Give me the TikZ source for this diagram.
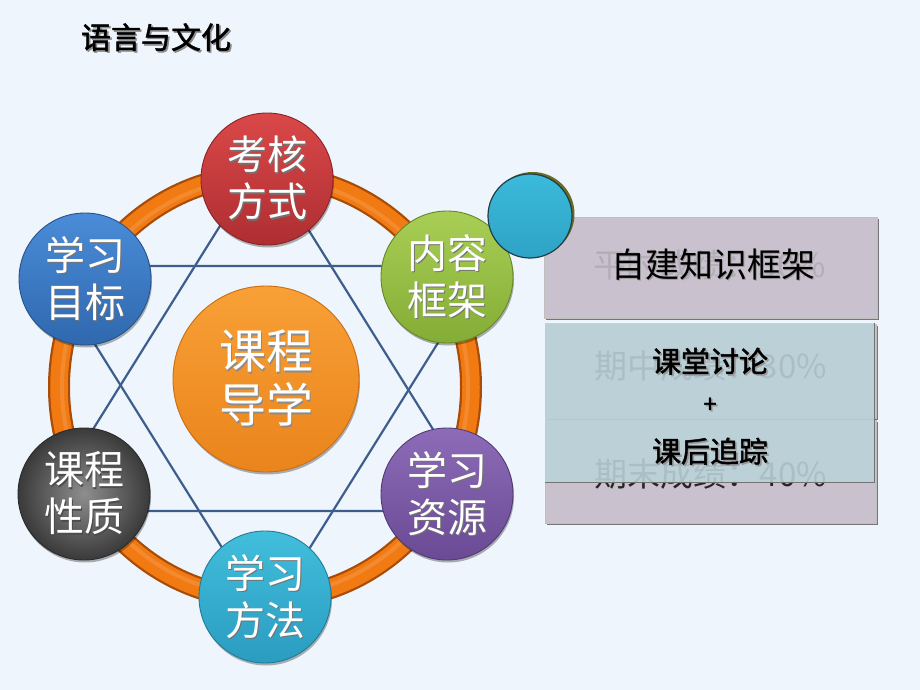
\documentclass[tikz,border=0pt]{standalone}
\usepackage{fontspec}
\newfontfamily\cjk{Noto Sans CJK SC}
\newfontfamily\cjkb{Noto Sans CJK SC}[FakeBold=1.6]
\usetikzlibrary{shadows}
\definecolor{bg}{HTML}{EEF5FC}
\definecolor{ringdark}{HTML}{A84C08}
\definecolor{ringor}{HTML}{F27A12}
\definecolor{starline}{HTML}{3D5E8C}
\definecolor{redT}{HTML}{DA4848}\definecolor{redB}{HTML}{AE2E32}\definecolor{redO}{HTML}{8A2428}
\definecolor{bluT}{HTML}{4A8CD8}\definecolor{bluB}{HTML}{2F68AE}\definecolor{bluO}{HTML}{25538A}
\definecolor{grnT}{HTML}{A9CE55}\definecolor{grnB}{HTML}{84AD35}\definecolor{grnO}{HTML}{65872A}
\definecolor{purT}{HTML}{8D6BB8}\definecolor{purB}{HTML}{6A4A94}\definecolor{purO}{HTML}{533A75}
\definecolor{cyaT}{HTML}{42BEDC}\definecolor{cyaB}{HTML}{2A9CC0}\definecolor{cyaO}{HTML}{217C98}
\definecolor{gryI}{HTML}{8E8E8E}\definecolor{gryO}{HTML}{3A3A3A}\definecolor{gryL}{HTML}{2A2A2A}
\definecolor{oraT}{HTML}{F8A036}\definecolor{oraB}{HTML}{EA841C}\definecolor{oraO}{HTML}{C96E14}
\definecolor{tealT}{HTML}{3BBADA}\definecolor{tealB}{HTML}{2EA3C6}\definecolor{tealO}{HTML}{1E3F48}
\definecolor{olive}{HTML}{6A6A22}
\definecolor{mauve}{HTML}{C9C1CD}
\definecolor{overl}{HTML}{BAD2D9}
\newcommand\shd[2]{\leavevmode\rlap{\kern1.6pt\raisebox{-1.6pt}{\textcolor{#1}{#2}}}#2}
\begin{document}
\begin{tikzpicture}[x=1pt,y=-1pt,
  bub/.style={circle, minimum size=132pt, inner sep=0pt, line width=0.9pt,
    text=white, align=center, font=\cjk\fontsize{40}{47}\selectfont,
    drop shadow={shadow xshift=1pt, shadow yshift=-2.5pt, opacity=.3, fill=black}},
  panel/.style={rectangle, inner sep=0pt, fill=mauve, draw=black!25, line width=0.5pt,
    drop shadow={shadow xshift=2pt, shadow yshift=-2pt, opacity=.75, fill=black!70}},
  ghost/.style={text=black!85, font=\cjk\fontsize{33}{36}\selectfont},
  ptext/.style={text=black, font=\cjkb\fontsize{29}{34}\selectfont},
  star/.style={draw=starline, line width=2.2pt, line join=miter}]
\fill[bg] (0,0) rectangle (920,690);
\useasboundingbox (0,0) rectangle (920,690);

% title
\node[text=black, font=\cjkb\fontsize{30}{32}\selectfont] (title) at (156,38) {\shd{black!45}{语言与文化}};

% orange ring
\coordinate (rc) at (265,387);
\draw[ringdark, line width=22pt] (rc) ellipse[x radius=206pt, y radius=212pt];
\draw[ringor, line width=17.5pt] (rc) ellipse[x radius=206pt, y radius=212pt];
\draw[white, opacity=.12, line width=4pt] (rc) ellipse[x radius=203pt, y radius=209pt];

% hexagram
\coordinate (u1) at (263,157);
\coordinate (u2) at (42,511);
\coordinate (u3) at (484,511);
\coordinate (d1) at (46,266);
\coordinate (d2) at (486,266);
\coordinate (d3) at (266,618);
\draw[star] (u1) -- (u2) -- (u3) -- cycle;
\draw[star] (d1) -- (d2) -- (d3) -- cycle;

% outer circles
\node[bub, top color=redT, bottom color=redB, draw=redO] (khfs) at (267,179) {\shd{black!55}{考核}\\\shd{black!55}{方式}};
\node[bub, top color=bluT, bottom color=bluB, draw=bluO] (xxmb) at (85,279) {\shd{black!55}{学习}\\\shd{black!55}{目标}};
\node[bub, top color=grnT, bottom color=grnB, draw=grnO] (nrkj) at (447,277) {\shd{black!55}{内容}\\\shd{black!55}{框架}};
\node[bub, shading=radial, inner color=gryI, outer color=gryO, draw=gryL] (kcxz) at (84,494) {\shd{black!70}{课程}\\\shd{black!70}{性质}};
\node[bub, top color=purT, bottom color=purB, draw=purO] (xxzy) at (447,494) {\shd{black!55}{学习}\\\shd{black!55}{资源}};
\node[bub, top color=cyaT, bottom color=cyaB, draw=cyaO] (xxff) at (265,597) {\shd{black!55}{学习}\\\shd{black!55}{方法}};

% center circle
\node[bub, minimum size=186pt, top color=oraT, bottom color=oraB, draw=oraO,
      font=\cjk\fontsize{47}{54}\selectfont] (kcdx) at (266,379) {\shd{black!45}{课程}\\\shd{black!45}{导学}};

% right panel
\node[panel, minimum width=333pt, minimum height=101pt] (box1) at (710.5,267.5) {};
\node[ghost, text=mauve!90!black] (g1) at (710,265) {平时成绩：30\%};
\node[panel, minimum width=331pt, minimum height=94pt] (box2) at (710.5,371) {};
\node[panel, minimum width=331pt, minimum height=103pt] (box3) at (710.5,471.5) {};
\node[ghost] (g2) at (711,366) {期中成绩：30\%};
\node[ghost] (g3) at (711,474) {期末成绩：40\%};
\node[rectangle, inner sep=0pt, minimum width=329pt, minimum height=159pt,
      fill=overl, fill opacity=.89] (ovl) at (709.5,402.5) {};
\draw[black!55, line width=1pt] (ovl.north east) -- (ovl.south east) -- (ovl.south west);

\node[text=black, font=\cjk\fontsize{34}{38}\selectfont] (zj) at (713,265) {\shd{black!40}{自建知识框架}};
\node[ptext] (ktl) at (710,362) {\shd{black!40}{课堂讨论}};
\node[ptext, font=\cjkb\fontsize{24}{26}\selectfont] (plus) at (710,406) {\shd{black!40}{+}};
\node[ptext] (khzz) at (710,452) {\shd{black!40}{课后追踪}};

% small teal circle
\fill[olive] (532.5,214) circle[radius=42pt];
\node[circle, minimum size=84pt, inner sep=0pt, top color=tealT, bottom color=tealB,
      draw=tealO, line width=1.2pt] (teal) at (530,216) {};
\end{tikzpicture}
\end{document}
